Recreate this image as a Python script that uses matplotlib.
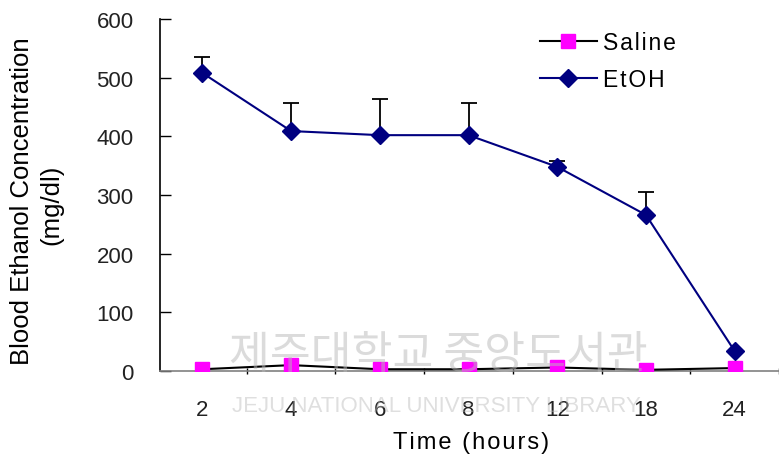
import matplotlib
matplotlib.use("Agg")
import matplotlib.pyplot as plt
import numpy as np

times = ["2", "4", "6", "8", "12", "18", "24"]
saline = [3, 10, 3, 3, 6, 2, 5]
etoh = [508, 409, 402, 402, 348, 266, 34]
etoh_err_up = [27, 47, 62, 55, 10, 39, 0]
yticks = [0, 100, 200, 300, 400, 500, 600]

plt.rcParams['font.family'] = ['Liberation Sans', 'DejaVu Sans']

HS = '\u200a'
def spaced(s):
    return HS.join(list(s))

fig = plt.figure(figsize=(7.79, 4.64), dpi=100)
ax = fig.add_axes([160/779, 1-372/464, 1-160/779, 352/464])
x = np.arange(len(times))

ax.errorbar(x, etoh, yerr=[np.zeros(len(etoh)), etoh_err_up], fmt='none',
            ecolor='black', elinewidth=1.3, capsize=5.5, capthick=1.3, zorder=2)
ax.plot(x, saline, color='black', lw=1.5, marker='s', ms=9.5, mfc='#ff00ff',
        mec='#ff00ff', label='Saline', zorder=3)
ax.plot(x, etoh, color='#000080', lw=1.5, marker='D', ms=9, mfc='#000080',
        mec='#000080', label='EtOH', zorder=4)

ax.set_xlim(-0.478, 6.4)
ax.set_ylim(0, 600)
ax.set_yticks(yticks)
ax.set_xticks(x)
ax.set_xticklabels(times, fontsize=16, color='#222222')
ax.set_xticks(np.arange(len(times)) + 0.5, minor=True)
ax.tick_params(axis='x', which='major', length=0, pad=20)
ax.tick_params(axis='x', which='minor', length=5, direction='inout', width=1)
ax.tick_params(axis='y', direction='in', length=8, width=1, labelsize=16,
               labelcolor='#222222', pad=19)

for s in ['top', 'right']:
    ax.spines[s].set_visible(False)
ax.spines['bottom'].set_color('#808080')
ax.spines['bottom'].set_linewidth(1.2)
ax.spines['left'].set_color('black')
ax.spines['left'].set_linewidth(1.2)

fig.text(471/779, 1-443/464, spaced('Time (hours)'), fontsize=17,
         ha='center', va='center')
fig.text(22/779, 1-201/464, 'Blood Ethanol Concentration', rotation=90,
         ha='center', va='center', fontsize=18.5)
fig.text(51/779, 1-205/464, '(mg/dl)', rotation=90,
         ha='center', va='center', fontsize=18.5)

leg = ax.legend(loc='upper left', bbox_to_anchor=(0.58, 1.025), frameon=False,
                fontsize=16.5, handlelength=2.5, labelspacing=0.6,
                handletextpad=0.25)
leg.get_texts()[0].set_text(spaced('Saline'))
leg.get_texts()[1].set_text(spaced('EtOH'))

# watermark
fig.text(438/779, 1-355/464, '제주대학교 중앙도서관', fontsize=32,
         family=['Noto Sans CJK KR'], color='#b8b8b8', alpha=0.5,
         ha='center', va='center', zorder=10)
fig.text(436/779, 1-407/464, 'JEJU NATIONAL UNIVERSITY LIBRARY', fontsize=16,
         color='#b8b8b8', alpha=0.45, ha='center', va='center', zorder=10)

fig.savefig('out.png', dpi=100)
